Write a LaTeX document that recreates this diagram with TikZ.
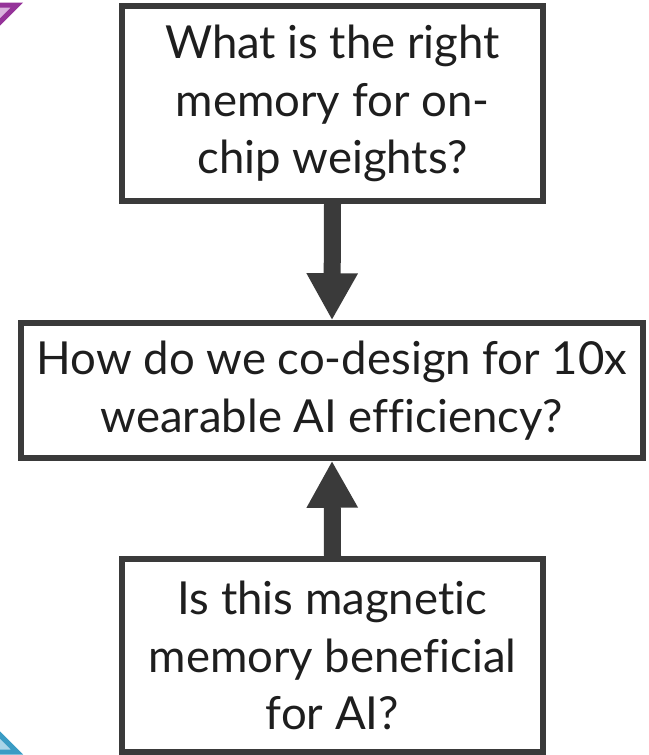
\documentclass[tikz,border=0pt]{standalone}
\usepackage{fontspec}
\setmainfont[Ligatures={NoCommon}]{Lato}
\usetikzlibrary{arrows.meta}
\definecolor{ink}{HTML}{3A3A3A}
\definecolor{txt}{HTML}{1E1E1E}
\definecolor{purpleedge}{HTML}{953399}
\definecolor{purplefill}{HTML}{D9B3DD}
\definecolor{blueedge}{HTML}{3A9CC4}
\definecolor{bluefill}{HTML}{A9D5E8}
\tikzset{
  qbox/.style={draw=ink, line width=5.5pt, fill=white, inner sep=0pt,
    text=txt, align=center, font=\fontsize{45.5}{57.5}\selectfont},
  blockarrow/.style={draw=ink, line width=17pt,
    -{Triangle[width=48pt,length=47pt]}},
}
\begin{document}
\begin{tikzpicture}[x=1pt,y=1pt]
\useasboundingbox (0,0) rectangle (648,-755);
% corner ornaments
\begin{scope}
\clip (0,0) rectangle (648,-755);
\filldraw[draw=purpleedge, fill=purplefill, line width=5pt, line join=miter]
  (-40,-5) -- (17,-5) -- (-40,-62) -- cycle;
\filldraw[draw=blueedge, fill=bluefill, line width=5pt, line join=miter]
  (-40,-752) -- (17,-752) -- (-40,-695) -- cycle;
\end{scope}
% question boxes
\node[qbox, minimum width=421pt, minimum height=195pt] (top) at (332.5,-103.5)
  {What is the right\\memory for on-\\chip weights?};
\node[qbox, minimum width=622pt, minimum height=135pt] (mid) at (332,-390.5)
  {How do we co-design for 10x\\wearable AI efficiency?};
\node[qbox, minimum width=421pt, minimum height=193pt] (bot) at (332.5,-655.5)
  {Is this magnetic\\memory beneficial\\for AI?};
% connecting arrows
\draw[blockarrow] (top.south) -- (mid.north);
\draw[blockarrow] (bot.north) -- (mid.south);
\end{tikzpicture}
\end{document}
